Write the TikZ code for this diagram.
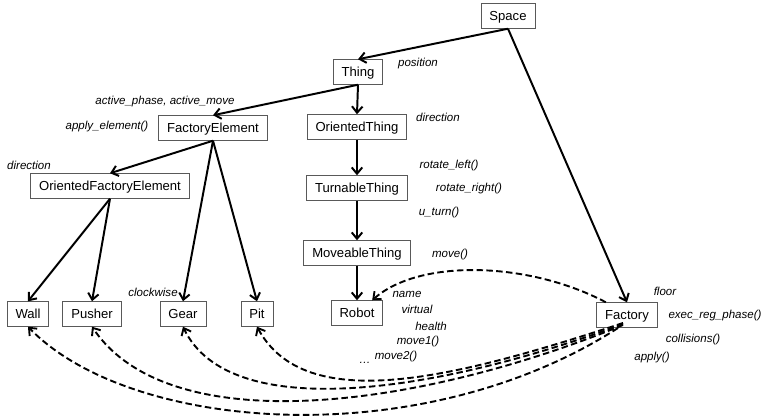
\documentclass[tikz,border=0pt]{standalone}
\usepackage{fontspec}
\setmainfont{Liberation Sans}
\usetikzlibrary{arrows.meta}

\begin{document}
\begin{tikzpicture}[x=0.025cm, y=-0.025cm, >={Straight Barb[length=4.5pt,width=7.5pt]},
  cls/.style={draw=black!65, line width=0.6pt, inner xsep=6pt, inner ysep=0pt,
    minimum height=17.5pt, text height=1.6ex, text depth=.3ex,
    font=\fontsize{9.3}{11}\selectfont},
  attr/.style={inner sep=0pt, text height=1.5ex, text depth=.25ex,
    font=\fontsize{8.2}{10}\selectfont\itshape},
  isa/.style={->, line width=1.4pt},
  uses/.style={->, line width=1.35pt, dash pattern=on 4.6pt off 2.4pt}]

\useasboundingbox (0,0) rectangle (763,418);

% -------------------------------------------------------
% 1. Classes
% -------------------------------------------------------
\node[cls] (space)   at (508,16)  {Space};
\node[cls] (thing)   at (358,72)  {Thing};
\node[cls] (felem)   at (213,128) {FactoryElement};
\node[cls] (othing)  at (357,127) {OrientedThing};
\node[cls] (ofelem)  at (110,186) {OrientedFactoryElement};
\node[cls] (tthing)  at (357,188) {TurnableThing};
\node[cls] (mthing)  at (357,253) {MoveableThing};
\node[cls] (wall)    at (28,314)  {Wall};
\node[cls] (pusher)  at (92,314)  {Pusher};
\node[cls] (gear)    at (183,314) {Gear};
\node[cls] (pit)     at (257,314) {Pit};
\node[cls] (robot)   at (357,313) {Robot};
\node[cls] (factory) at (627,315) {Factory};

% -------------------------------------------------------
% 2. Attributes and methods
% -------------------------------------------------------
\node[attr] (pos)     at (418,62)  {position};
\node[attr] (act)     at (165,100) {active\_phase, active\_move};
\node[attr] (applyel) at (107,125) {apply\_element()};
\node[attr] (dirofe)  at (29,165)  {direction};
\node[attr] (dirot)   at (438,117) {direction};
\node[attr] (rotl)    at (449,164) {rotate\_left()};
\node[attr] (rotr)    at (469,187) {rotate\_right()};
\node[attr] (uturn)   at (439,211) {u\_turn()};
\node[attr] (mv)      at (450,253) {move()};
\node[attr] (cw)      at (153,292) {clockwise};
\node[attr] (rname)   at (407,293) {name};
\node[attr] (virt)    at (417,309) {virtual};
\node[attr] (hlth)    at (431,326) {health};
\node[attr] (mvone)   at (418,340) {move1()};
\node[attr] (mvtwo)   at (396,355) {move2()};
\node[attr] (dots)    at (365,359) {…};
\node[attr] (flr)     at (665,291) {floor};
\node[attr] (execrp)  at (715,314) {exec\_reg\_phase()};
\node[attr] (coll)    at (693,338) {collisions()};
\node[attr] (apl)     at (652,356) {apply()};

% -------------------------------------------------------
% 3. Inheritance
% -------------------------------------------------------
\draw[isa] (space.south) -- (thing.north);
\draw[isa] (space.south) -- (factory.north);
\draw[isa] (thing.south) -- (felem.north);
\draw[isa] (thing.south) -- (othing.north);
\draw[isa] (felem.south) -- (ofelem.north);
\draw[isa] (felem.south) -- (gear.north);
\draw[isa] (felem.south) -- (pit.north);
\draw[isa] (ofelem.south) -- (wall.north);
\draw[isa] (ofelem.south) -- (pusher.north);
\draw[isa] (othing.south) -- (tthing.north);
\draw[isa] (tthing.south) -- (mthing.north);
\draw[isa] (mthing.south) -- (robot.north);

% -------------------------------------------------------
% 4. Factory holds the elements
% -------------------------------------------------------
\draw[uses] (factory.149) .. controls (530,262) and (420,258) .. (robot.40);
\draw[uses] ([shift={(-4,8)}]factory.center) .. controls (450,380) and (305,415) .. (pit.south);
\draw[uses] ([shift={(-4,9)}]factory.center) .. controls (440,392) and (230,425) .. (gear.south);
\draw[uses] ([shift={(-4,10)}]factory.center) .. controls (420,408) and (170,442) .. (pusher.south);
\draw[uses] ([shift={(-9,13)}]factory.center) .. controls (420,455) and (130,432) .. (wall.south);

\end{tikzpicture}
\end{document}
